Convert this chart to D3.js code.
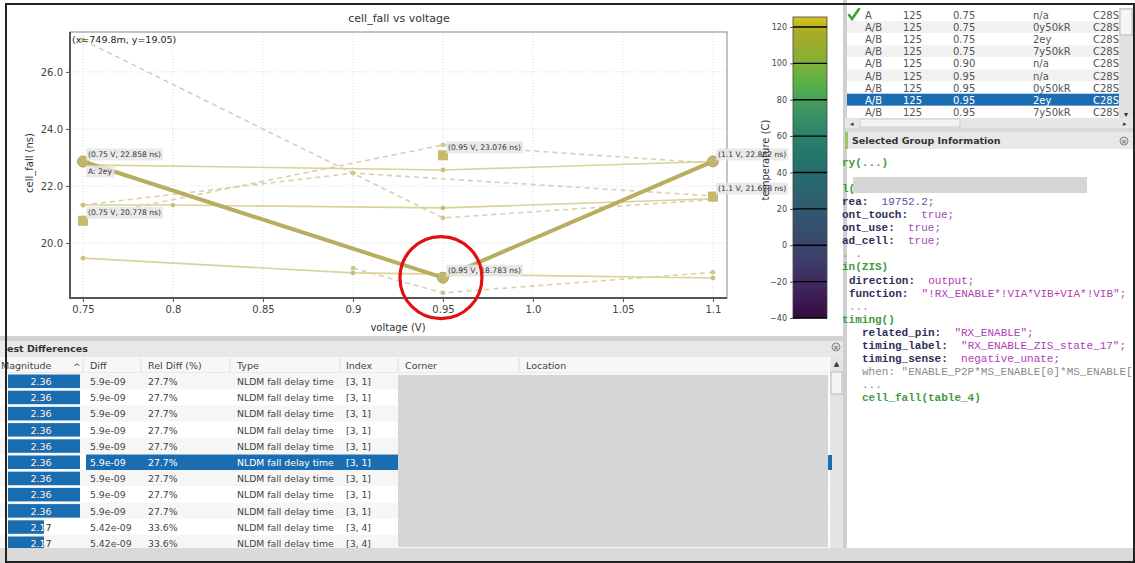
<!DOCTYPE html>
<html>
<head>
<meta charset="utf-8">
<script src="https://cdn.jsdelivr.net/npm/d3@7"></script>
<style>
body { margin: 0; background: #fff; }
text { font-family: "DejaVu Sans", sans-serif; }
.mono { font-family: "Liberation Mono", monospace; white-space: pre; }
</style>
</head>
<body>
<script>
// chart values
const xTicks = [0.75, 0.8, 0.85, 0.9, 0.95, 1.0, 1.05, 1.1];
const xTickLabels = ["0.75", "0.8", "0.85", "0.9", "0.95", "1.0", "1.05", "1.1"];
const yTicks = [20, 22, 24, 26];

// selected corner (thick line)
const selVolt = [0.75, 0.95, 1.1];
const selFall = [22.858, 18.783, 22.862];
const selLabels = ["(0.75 V, 22.858 ns)", "(0.95 V, 18.783 ns)", "(1.1 V, 22.862 ns)"];

// reference corner (square markers)
const refVolt = [0.75, 0.95, 1.1];
const refFall = [20.778, 23.076, 21.628];
const refLabels = ["(0.75 V, 20.778 ns)", "(0.95 V, 23.076 ns)", "(1.1 V, 21.628 ns)"];

// other corners, solid
const solidVolts = [[0.75, 0.95, 1.1], [0.75, 0.8, 0.95, 1.1], [0.75, 0.9, 1.1]];
const solidFalls = [[22.74, 22.56, 22.86], [21.33, 21.33, 21.23, 21.55], [19.47, 18.95, 18.77]];
// other corners, dashed
const dashVolts = [[0.75, 0.95, 1.1], [0.75, 0.9, 1.1], [0.75, 0.95, 1.1], [0.9, 0.95, 1.1]];
const dashFalls = [[27.12, 20.88, 21.52], [21.33, 22.45, 21.65], [20.88, 23.44, 22.80], [19.12, 18.25, 18.97]];

const cbTicks = [-40, -20, 0, 20, 40, 60, 80, 100, 120];

// corner list (top right)
const rowCorner = ["A", "A/B", "A/B", "A/B", "A/B", "A/B", "A/B", "A/B", "A/B"];
const rowTemp = ["125", "125", "125", "125", "125", "125", "125", "125", "125"];
const rowVolt = ["0.75", "0.75", "0.75", "0.75", "0.90", "0.95", "0.95", "0.95", "0.95"];
const rowRc = ["n/a", "0y50kR", "2ey", "7y50kR", "n/a", "n/a", "0y50kR", "2ey", "7y50kR"];
const rowLib = ["C28S", "C28S", "C28S", "C28S", "C28S", "C28S", "C28S", "C28S", "C28S"];

// largest differences table
const diffMag = [2.36, 2.36, 2.36, 2.36, 2.36, 2.36, 2.36, 2.36, 2.36, 2.17, 2.17];
const diffAbs = ["5.9e-09", "5.9e-09", "5.9e-09", "5.9e-09", "5.9e-09", "5.9e-09", "5.9e-09", "5.9e-09", "5.9e-09", "5.42e-09", "5.42e-09"];
const diffRel = ["27.7%", "27.7%", "27.7%", "27.7%", "27.7%", "27.7%", "27.7%", "27.7%", "27.7%", "33.6%", "33.6%"];
const diffType = Array.from({length: 11}, () => "NLDM fall delay time");
const diffIndex = ["[3, 1]", "[3, 1]", "[3, 1]", "[3, 1]", "[3, 1]", "[3, 1]", "[3, 1]", "[3, 1]", "[3, 1]", "[3, 4]", "[3, 4]"];

// liberty snippet: [indent, [text, style]...]
const codeLines = [
    [0, [["ry(...)", "grn"]]],
    [0, []],
    [0, [["l(", "grn"]]],
    [0, [["rea:", "key"], ["  19752.2;", "num"]]],
    [0, [["ont_touch:", "key"], ["  true;", "kw"]]],
    [0, [["ont_use:", "key"], ["  true;", "kw"]]],
    [0, [["ad_cell:", "key"], ["  true;", "kw"]]],
    [0, [[". .", "dim"]]],
    [0, [["in(ZIS)", "grn"]]],
    [1, [["direction:", "key"], ["  output;", "str"]]],
    [1, [["function:", "key"], ["  \"!RX_ENABLE*!VIA*VIB+VIA*!VIB\";", "str"]]],
    [1, [["...", "dim"]]],
    [0, [["timing()", "grn"]]],
    [3, [["related_pin:", "key"], ["  \"RX_ENABLE\";", "str"]]],
    [3, [["timing_label:", "key"], ["  \"RX_ENABLE_ZIS_state_17\";", "str"]]],
    [3, [["timing_sense:", "key"], ["  negative_unate;", "str"]]],
    [3, [["when: \"ENABLE_P2P*MS_ENABLE[0]*MS_ENABLE[", "dim"]]],
    [3, [["...", "dim"]]],
    [3, [["cell_fall(table_4)", "grn"]]]
];
const codeColor = {grn: "#3f9b3f", key: "#2e2e58", num: "#5656a8", kw: "#a04cb0", str: "#b23cb4", dim: "#8a8a8a"};

let svg = d3.select("body").append("svg")
    .attr("width", 1135)
    .attr("height", 563);

svg.append("rect").attr("width", 1135).attr("height", 563).attr("fill", "#fff");
let defs = svg.append("defs");

// ---------- chart ----------
let x = d3.scaleLinear().domain([0.7428, 1.1078]).range([70, 727]);
let y = d3.scaleLinear().domain([18.07, 27.4]).range([298, 32]);

let chart = svg.append("g");

chart.append("text")
    .attr("x", 399).attr("y", 22)
    .attr("text-anchor", "middle")
    .attr("font-size", 11).attr("fill", "#333")
    .text("cell_fall vs voltage");

// grid
chart.selectAll(".gx").data(xTicks).enter().append("line")
    .attr("x1", d => x(d)).attr("x2", d => x(d))
    .attr("y1", 32).attr("y2", 298)
    .attr("stroke", "#dcdcdc").attr("stroke-dasharray", "1,2");
chart.selectAll(".gy").data(yTicks).enter().append("line")
    .attr("x1", 70).attr("x2", 727)
    .attr("y1", d => y(d)).attr("y2", d => y(d))
    .attr("stroke", "#dcdcdc").attr("stroke-dasharray", "1,2");

// axes
let bottomAxis = d3.axisBottom(x).tickValues(xTicks)
    .tickFormat((d, i) => xTickLabels[i]).tickSize(4).tickPadding(4);
let leftAxis = d3.axisLeft(y).tickValues(yTicks)
    .tickFormat(d3.format(".1f")).tickSize(4).tickPadding(3);

let xAxis = chart.append("g").attr("transform", "translate(0,298)").call(bottomAxis);
let yAxis = chart.append("g").attr("transform", "translate(70,0)").call(leftAxis);
[xAxis, yAxis].forEach(a => {
    a.select(".domain").remove();
    a.selectAll("line").attr("stroke", "#555");
    a.selectAll("text").attr("font-size", 10).attr("fill", "#444")
        .attr("font-family", "DejaVu Sans");
});

// frame
chart.append("rect").attr("x", 70).attr("y", 32).attr("width", 657).attr("height", 266)
    .attr("fill", "none").attr("stroke", "#888").attr("stroke-width", 1);
chart.append("line").attr("x1", 70).attr("x2", 70).attr("y1", 32).attr("y2", 299)
    .attr("stroke", "#555").attr("stroke-width", 2);
chart.append("line").attr("x1", 69).attr("x2", 727).attr("y1", 298).attr("y2", 298)
    .attr("stroke", "#555").attr("stroke-width", 2);

chart.append("text")
    .attr("x", 398).attr("y", 331)
    .attr("text-anchor", "middle").attr("font-size", 10).attr("fill", "#333")
    .text("voltage (V)");
chart.append("text")
    .attr("transform", "translate(33,163) rotate(-90)")
    .attr("text-anchor", "middle").attr("font-size", 10).attr("fill", "#333")
    .text("cell_fall (ns)");

let line = d3.line().x(d => x(d[0])).y(d => y(d[1]));
const zip = (a, b) => a.map((v, i) => [v, b[i]]);

// other corners
dashVolts.forEach((vs, k) => {
    let pts = zip(vs, dashFalls[k]);
    chart.append("path").attr("d", line(pts))
        .attr("fill", "none").attr("stroke", "#d8d1b0")
        .attr("stroke-width", 1.6).attr("stroke-dasharray", "5,4");
    chart.selectAll(null).data(pts).enter().append("circle")
        .attr("cx", d => x(d[0])).attr("cy", d => y(d[1])).attr("r", 2.4)
        .attr("fill", "#cfc58a");
});
solidVolts.forEach((vs, k) => {
    let pts = zip(vs, solidFalls[k]);
    chart.append("path").attr("d", line(pts))
        .attr("fill", "none").attr("stroke", "#dbd293").attr("stroke-width", 1.6);
    chart.selectAll(null).data(pts).enter().append("circle")
        .attr("cx", d => x(d[0])).attr("cy", d => y(d[1])).attr("r", 2.4)
        .attr("fill", "#c9be7a");
});

// reference squares
chart.selectAll(".sq").data(zip(refVolt, refFall)).enter().append("rect")
    .attr("x", d => x(d[0]) - 5).attr("y", d => y(d[1]) - 5)
    .attr("width", 10).attr("height", 10)
    .attr("fill", "#c6b86c");

// selected corner
let selPts = zip(selVolt, selFall);
chart.append("path").attr("d", line(selPts))
    .attr("fill", "none").attr("stroke", "#b9ad60").attr("stroke-width", 4)
    .attr("stroke-linejoin", "round");
chart.selectAll(".sel").data(selPts).enter().append("circle")
    .attr("cx", d => x(d[0])).attr("cy", d => y(d[1])).attr("r", 5.5)
    .attr("fill", "#c2b66e").attr("stroke", "#b3a75a");

// value tags
function tag(px, py, str) {
    let t = chart.append("text")
        .attr("x", px).attr("y", py)
        .attr("dominant-baseline", "central")
        .attr("font-size", 7.6).attr("fill", "#333")
        .text(str);
    let bb = t.node().getBBox();
    chart.insert("rect", () => t.node())
        .attr("x", bb.x - 2).attr("y", bb.y - 1.5)
        .attr("width", bb.width + 4).attr("height", bb.height + 3)
        .attr("fill", "#e6e6e6").attr("opacity", 0.85);
}
selPts.forEach((d, i) => tag(x(d[0]) + 5, y(d[1]) - 7, selLabels[i]));
zip(refVolt, refFall).forEach((d, i) => tag(x(d[0]) + 5, y(d[1]) - 8, refLabels[i]));
tag(x(selVolt[0]) + 5, y(selFall[0]) + 10, "A: 2ey");

chart.append("text")
    .attr("x", 72).attr("y", 43)
    .attr("font-size", 9.5).attr("fill", "#222")
    .text("(x=749.8m, y=19.05)");

// colour bar (viridis, a little dulled as in the screenshot)
let cb = d3.scaleLinear().domain([-40, 125.5]).range([318, 17]);
let viridis = d3.scaleSequential(t => {
    let c = d3.hsl(d3.interpolateViridis(t));
    c.s *= 0.78;
    c.l *= 0.84;
    return c.formatHex();
}).domain([-40, 125.5]);
let grad = defs.append("linearGradient")
    .attr("id", "vir").attr("x1", 0).attr("x2", 0).attr("y1", 1).attr("y2", 0);
d3.range(0, 1.0001, 0.05).forEach(t => {
    grad.append("stop").attr("offset", t)
        .attr("stop-color", viridis(-40 + t * 165.5));
});
chart.append("rect").attr("x", 793).attr("y", 17).attr("width", 34).attr("height", 301)
    .attr("fill", "url(#vir)").attr("stroke", "#444").attr("stroke-width", 0.8);
chart.selectAll(".cbt").data(cbTicks).enter().append("line")
    .attr("x1", 793).attr("x2", 827)
    .attr("y1", d => cb(d)).attr("y2", d => cb(d))
    .attr("stroke", "#000").attr("stroke-width", 1.4);
let cbAxis = chart.append("g").attr("transform", "translate(793,0)")
    .call(d3.axisLeft(cb).tickValues(cbTicks).tickSize(3).tickPadding(3));
cbAxis.select(".domain").remove();
cbAxis.selectAll("line").attr("stroke", "#555");
cbAxis.selectAll("text").attr("font-size", 8).attr("fill", "#444").attr("font-family", "DejaVu Sans");
chart.append("text")
    .attr("transform", "translate(769,160) rotate(-90)")
    .attr("text-anchor", "middle").attr("font-size", 10).attr("fill", "#333")
    .text("temperature (C)");

// highlight ring
chart.append("circle").attr("cx", x(0.95) - 2).attr("cy", y(18.783)).attr("r", 41)
    .attr("fill", "none").attr("stroke", "#e21010").attr("stroke-width", 3.2);

// ---------- bottom: largest differences ----------
let bot = svg.append("g");
bot.append("rect").attr("x", 0).attr("y", 336).attr("width", 845).attr("height", 5).attr("fill", "#d2d2d2");
bot.append("rect").attr("x", 0).attr("y", 341).attr("width", 845).attr("height", 16).attr("fill", "#e8e8e8");
bot.append("text").attr("x", 7).attr("y", 352).attr("font-size", 9.5).attr("font-weight", "bold")
    .attr("fill", "#333").text("est Differences");
bot.append("circle").attr("cx", 836).attr("cy", 347).attr("r", 4).attr("fill", "#ddd").attr("stroke", "#888");
bot.append("text").attr("x", 836).attr("y", 350).attr("text-anchor", "middle").attr("font-size", 7)
    .attr("fill", "#555").text("×");

bot.append("rect").attr("x", 0).attr("y", 357).attr("width", 829).attr("height", 16).attr("fill", "#f7f7f7");
bot.append("line").attr("x1", 0).attr("x2", 829).attr("y1", 373).attr("y2", 373).attr("stroke", "#ddd");
const headX = [1, 90, 148, 237, 346, 405, 526];
const heads = ["Magnitude", "Diff", "Rel Diff (%)", "Type", "Index", "Corner", "Location"];
const sepX = [83, 141, 230, 340, 398, 519];
bot.selectAll(".hd").data(heads).enter().append("text")
    .attr("x", (d, i) => headX[i]).attr("y", 369)
    .attr("font-size", 9.5).attr("fill", "#444").text(d => d);
bot.append("text").attr("x", 73).attr("y", 370).attr("font-size", 9).attr("fill", "#444").text("^");
bot.selectAll(".sp").data(sepX).enter().append("line")
    .attr("x1", d => d).attr("x2", d => d).attr("y1", 358).attr("y2", 372)
    .attr("stroke", "#ddd");

let magW = d3.scaleLinear().domain([1.98, 2.36]).range([0, 72]);
let rowY = d3.scaleLinear().domain([0, 1]).range([373, 389.2]);
const selRow = 5;
diffMag.forEach((m, i) => {
    let top = rowY(i);
    bot.append("rect").attr("x", 0).attr("y", top).attr("width", 829).attr("height", 16.2)
        .attr("fill", i % 2 ? "#fff" : "#f6f6f6");
    if (i === selRow) {
        bot.append("rect").attr("x", 86).attr("y", top + 0.5).attr("width", 312).attr("height", 15.5)
            .attr("fill", "#1b6db1");
    }
    bot.append("rect").attr("x", 8).attr("y", top + 1.5).attr("width", magW(m)).attr("height", 13.5)
        .attr("fill", "#1b6db1");
    defs.append("clipPath").attr("id", "mc" + i).append("rect")
        .attr("x", 8).attr("y", top).attr("width", magW(m)).attr("height", 16.2);
    let lab = d3.format(".2f")(m);
    bot.append("text").attr("x", 41).attr("y", top + 12).attr("text-anchor", "middle")
        .attr("font-size", 9.5).attr("fill", "#333").text(lab);
    bot.append("text").attr("x", 41).attr("y", top + 12).attr("text-anchor", "middle")
        .attr("font-size", 9.5).attr("fill", "#fff").attr("clip-path", "url(#mc" + i + ")").text(lab);
    let c = i === selRow ? "#fff" : "#444";
    [[90, diffAbs[i]], [148, diffRel[i]], [237, diffType[i]], [346, diffIndex[i]]].forEach(p => {
        bot.append("text").attr("x", p[0]).attr("y", top + 12).attr("font-size", 9.3)
            .attr("fill", c).text(p[1]);
    });
});
bot.append("rect").attr("x", 398).attr("y", 375).attr("width", 430).attr("height", 172).attr("fill", "#d6d6d6");
// scrollbar
bot.append("rect").attr("x", 830).attr("y", 357).attr("width", 13).attr("height", 191).attr("fill", "#e4e4e4");
bot.append("rect").attr("x", 831).attr("y", 372).attr("width", 11).attr("height", 22).attr("fill", "#f4f4f4")
    .attr("stroke", "#bbb");
bot.append("text").attr("x", 836.5).attr("y", 366).attr("text-anchor", "middle").attr("font-size", 7)
    .attr("fill", "#333").text("▲");
bot.append("rect").attr("x", 828).attr("y", 455).attr("width", 4).attr("height", 15).attr("fill", "#1b6db1");

svg.append("rect").attr("x", 0).attr("y", 548).attr("width", 1135).attr("height", 15).attr("fill", "#dadada");

// ---------- right: corner list ----------
let rp = svg.append("g");
rp.append("rect").attr("x", 843).attr("y", 0).attr("width", 4).attr("height", 548).attr("fill", "#cfcfcf");
let rY = d3.scaleLinear().domain([0, 1]).range([9, 21.1]);
rowCorner.forEach((c, i) => {
    let top = rY(i);
    rp.append("rect").attr("x", 847).attr("y", top).attr("width", 272).attr("height", 12.1)
        .attr("fill", i === 7 ? "#1b6db1" : (i % 2 ? "#f2f2f2" : "#fff"));
    let col = i === 7 ? "#fff" : "#555";
    [[865, c], [903, rowTemp[i]], [953, rowVolt[i]], [1033, rowRc[i]], [1093, rowLib[i]]].forEach(p => {
        rp.append("text").attr("x", p[0]).attr("y", top + 10).attr("font-size", 10)
            .attr("fill", col).text(p[1]);
    });
});
rp.append("path").attr("d", "M849,15 L852,19 L859,9").attr("fill", "none")
    .attr("stroke", "#3aa53a").attr("stroke-width", 2.6).attr("stroke-linecap", "round");
// scrollbars
rp.append("rect").attr("x", 1119).attr("y", 8).attr("width", 14).attr("height", 110).attr("fill", "#e2e2e2");
rp.append("rect").attr("x", 1120).attr("y", 9).attr("width", 12).attr("height", 26).attr("fill", "#f5f5f5").attr("stroke", "#bbb");
rp.append("text").attr("x", 1126).attr("y", 117).attr("text-anchor", "middle").attr("font-size", 8).attr("fill", "#333").text("▾");
rp.append("rect").attr("x", 845).attr("y", 118).attr("width", 288).attr("height", 10).attr("fill", "#e6e6e6");
rp.append("rect").attr("x", 860).attr("y", 119).attr("width", 100).attr("height", 8).attr("fill", "#f2f2f2").attr("stroke", "#ccc");
rp.append("text").attr("x", 850).attr("y", 126).attr("font-size", 7).attr("fill", "#333").text("◂");
rp.append("text").attr("x", 1123).attr("y", 126).attr("font-size", 7).attr("fill", "#333").text("▸");
rp.append("rect").attr("x", 845).attr("y", 128).attr("width", 290).attr("height", 4).attr("fill", "#d8d8d8");

// selected group information
rp.append("rect").attr("x", 845).attr("y", 132).attr("width", 290).attr("height", 17).attr("fill", "#e8e8e8");
rp.append("rect").attr("x", 845).attr("y", 132).attr("width", 3).attr("height", 17).attr("fill", "#9cc36b");
rp.append("text").attr("x", 852).attr("y", 144).attr("font-size", 9.5).attr("font-weight", "bold")
    .attr("fill", "#333").text("Selected Group Information");
rp.append("circle").attr("cx", 1124).attr("cy", 141).attr("r", 4).attr("fill", "#ddd").attr("stroke", "#888");
rp.append("text").attr("x", 1124).attr("y", 143.5).attr("text-anchor", "middle").attr("font-size", 7)
    .attr("fill", "#555").text("×");

let codeY = d3.scaleLinear().domain([0, 18]).range([166, 401]);
const codeIndent = [842, 849, 856, 862];
rp.append("rect").attr("x", 853).attr("y", 177).attr("width", 234).attr("height", 16).attr("fill", "#d6d6d6");
codeLines.forEach((ln, i) => {
    let t = rp.append("text").attr("class", "mono")
        .attr("x", codeIndent[ln[0]]).attr("y", codeY(i))
        .attr("font-size", 11);
    ln[1].forEach(s => {
        t.append("tspan").attr("fill", codeColor[s[1]])
            .attr("font-weight", s[1] === "key" || s[1] === "grn" ? "bold" : "normal")
            .text(s[0]);
    });
});

// outer frame
svg.append("rect").attr("x", 6).attr("y", 4).attr("width", 1128).attr("height", 558)
    .attr("fill", "none").attr("stroke", "#222").attr("stroke-width", 2);
</script>
</body>
</html>
